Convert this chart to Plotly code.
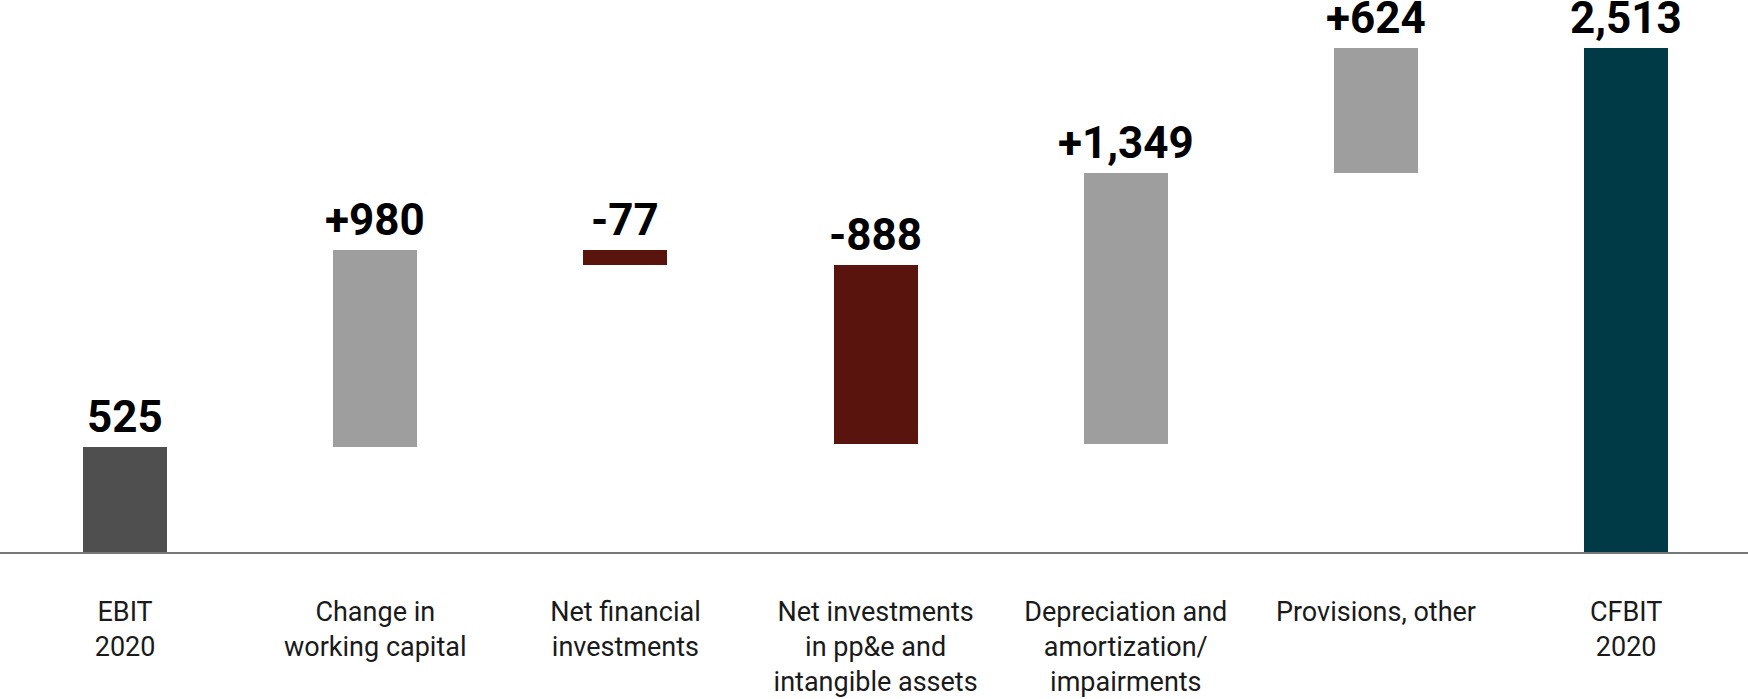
import numpy as np
import plotly.graph_objects as go

# Bridge from EBIT to CFBIT 2020 (in millions of euros)
categories = [
    "EBIT<br>2020",
    "Change in<br>working capital",
    "Net financial<br>investments",
    "Net investments<br>in pp&e and<br>intangible assets",
    "Depreciation and<br>amortization/<br>impairments",
    "Provisions, other",
    "CFBIT<br>2020",
]
values = [525, 980, -77, -888, 1349, 624, 2513]
measures = ["absolute", "relative", "relative", "relative", "relative", "relative", "total"]
value_labels = ["525", "+980", "-77", "-888", "+1,349", "+624", "2,513"]

colors = ["#4f4f4f", "#9e9e9e", "#5a140e", "#5a140e", "#9e9e9e", "#9e9e9e", "#003a47"]

# floating bar bases: running total before each step, zero for start/end totals
bases = []
running = 0
for v, m in zip(values, measures):
    if m == "relative":
        bases.append(running)
        running += v
    else:
        bases.append(0)
        running = v
bases = np.array(bases)
vals = np.array(values)
tops = np.maximum(bases, bases + vals)

x = list(range(len(categories)))

fig = go.Figure()
fig.add_trace(go.Bar(
    x=x,
    y=vals,
    base=bases,
    width=0.336,
    marker=dict(color=colors, line=dict(width=0)),
    hoverinfo="skip",
    showlegend=False,
))

for xi, top, lab in zip(x, tops, value_labels):
    fig.add_annotation(
        x=xi, y=top, xref="x", yref="y",
        text=f"<b>{lab}</b>",
        showarrow=False,
        yanchor="bottom",
        yshift=2,
        font=dict(family="Roboto", size=44, color="#000000"),
    )

fig.update_layout(
    width=1748,
    height=699,
    margin=dict(l=0, r=0, t=0, b=147, autoexpand=False),
    paper_bgcolor="white",
    plot_bgcolor="white",
    bargap=0,
    xaxis=dict(
        range=[-0.5, 6.487],
        tickmode="array",
        tickvals=x,
        ticktext=categories,
        showline=True,
        linecolor="#777777",
        linewidth=1.5,
        showgrid=False,
        zeroline=False,
        ticks="",
        automargin=False,
        ticklabelstandoff=35,
        tickfont=dict(family="Roboto", size=27, color="#1a1a1a"),
        fixedrange=True,
    ),
    yaxis=dict(
        range=[0, 2750],
        visible=False,
        showgrid=False,
        zeroline=False,
        automargin=False,
        fixedrange=True,
    ),
)

fig.write_html("out.html")
